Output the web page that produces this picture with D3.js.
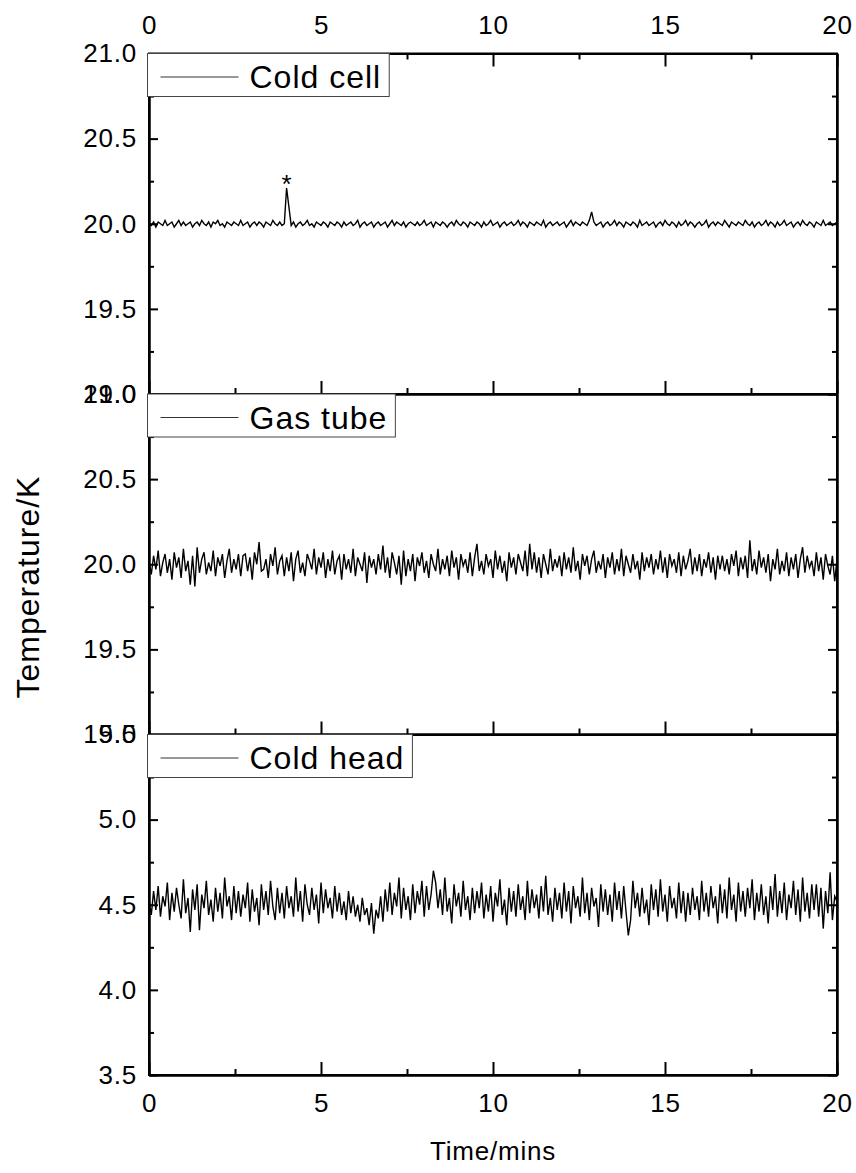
<!DOCTYPE html>
<html>
<head>
<meta charset="utf-8">
<script src="https://cdn.jsdelivr.net/npm/d3@7"></script>
<style>
  body { margin: 0; background: #fff; }
  text { font-family: "Liberation Sans", Arial, sans-serif; fill: #000; }
</style>
</head>
<body>
<div id="chart"></div>
<script>
// one sample every 4 s, time axis in minutes
const sampleMinutes = 4 / 60;

// Cold cell temperature (K)
const coldCell = [
  20.00, 19.99, 20.01, 19.98, 20.01, 20.00, 19.99, 20.02, 19.99, 20.00, 20.01, 19.98, 20.00, 20.02, 19.99, 20.01, 19.99, 20.00, 20.01, 19.98,
  20.00, 20.01, 19.99, 20.02, 20.00, 19.99, 20.01, 19.98, 20.01, 20.00, 20.02, 19.99, 20.00, 19.98, 20.01, 20.00, 19.99, 20.01, 20.00, 19.99,
  20.02, 19.99, 20.00, 20.01, 19.98, 20.00, 20.01, 19.99, 20.01, 20.00, 19.98, 20.01, 20.00, 19.99, 20.02, 20.00, 19.99, 20.01, 19.99, 20.00,
  20.21, 20.10, 19.99, 20.01, 19.98, 20.00, 20.01, 19.99, 20.00, 20.02, 19.99, 20.00, 19.98, 20.01, 20.00, 19.99, 20.01, 20.00, 19.98, 20.01,
  20.00, 19.99, 20.01, 20.00, 19.98, 20.01, 19.99, 20.00, 20.01, 19.99, 20.00, 20.02, 19.98, 20.00, 20.01, 19.99, 20.00, 20.01, 19.98, 20.00,
  20.01, 19.99, 20.00, 20.01, 19.98, 20.00, 20.02, 19.99, 20.01, 20.00, 19.99, 20.01, 19.98, 20.00, 20.01, 20.00, 19.99, 20.01, 19.99, 20.00,
  20.02, 19.99, 20.00, 20.01, 19.98, 20.01, 20.00, 19.99, 20.01, 20.00, 19.98, 20.00, 20.01, 19.99, 20.02, 20.00, 19.99, 20.01, 20.00, 19.98,
  20.01, 20.00, 19.99, 20.01, 20.00, 19.98, 20.01, 19.99, 20.00, 20.02, 19.99, 20.00, 20.01, 19.98, 20.00, 20.01, 19.99, 20.00, 20.01, 19.99,
  20.00, 20.02, 19.99, 20.01, 20.00, 19.98, 20.01, 20.00, 19.99, 20.01, 20.00, 19.99, 20.02, 19.98, 20.00, 20.01, 19.99, 20.00, 20.01, 19.99,
  20.00, 20.01, 19.98, 20.00, 20.02, 19.99, 20.01, 20.00, 19.99, 20.01, 20.00, 19.99, 20.02, 20.07, 20.01, 19.99, 20.00, 20.01, 19.98, 20.00,
  20.01, 19.99, 20.00, 20.02, 19.99, 20.01, 20.00, 19.98, 20.01, 20.00, 19.99, 20.01, 20.00, 19.98, 20.02, 19.99, 20.00, 20.01, 19.99, 20.00,
  20.01, 19.98, 20.00, 20.01, 19.99, 20.02, 20.00, 19.99, 20.01, 20.00, 19.98, 20.01, 19.99, 20.00, 20.02, 19.99, 20.01, 20.00, 19.98, 20.00,
  20.01, 19.99, 20.00, 20.02, 19.98, 20.00, 20.01, 19.99, 20.01, 20.00, 19.99, 20.02, 20.00, 19.98, 20.01, 20.00, 19.99, 20.01, 20.00, 19.99,
  20.02, 20.00, 19.99, 20.01, 19.98, 20.00, 20.01, 19.99, 20.00, 20.02, 19.99, 20.01, 20.00, 19.98, 20.01, 19.99, 20.00, 20.02, 19.99, 20.00,
  20.01, 19.98, 20.00, 20.01, 19.99, 20.02, 20.00, 19.99, 20.01, 20.00, 19.98, 20.01, 20.00, 19.99, 20.02, 19.99, 20.00, 20.01, 19.99, 20.00,
  20.01
];

// Gas tube temperature (K)
const gasTube = [
  20.02, 19.94, 20.05, 19.97, 20.08, 19.93, 20.01, 20.06, 19.95, 20.03, 19.91, 20.07, 19.98, 20.04, 19.92, 20.09, 19.96, 20.02, 19.88, 20.05,
  19.87, 20.10, 19.95, 20.03, 20.07, 19.94, 20.01, 19.96, 20.08, 19.93, 20.04, 19.99, 20.06, 19.92, 20.02, 20.09, 19.95, 20.03, 19.97, 20.06,
  19.93, 20.05, 20.06, 19.96, 20.04, 19.91, 20.07, 20.00, 20.13, 19.96, 19.97, 20.03, 19.92, 20.06, 19.99, 20.10, 19.94, 20.02, 20.05, 19.93,
  20.04, 19.96, 20.07, 19.90, 20.03, 20.08, 19.95, 20.01, 19.93, 20.06, 20.02, 19.97, 20.09, 19.94, 20.04, 19.98, 20.07, 19.92, 20.03, 19.96,
  20.08, 19.94, 20.02, 20.05, 19.91, 20.06, 19.97, 20.03, 19.95, 20.09, 19.93, 20.04, 20.00, 19.96, 20.07, 19.89, 20.05, 19.98, 20.03, 19.94,
  20.06, 19.97, 20.11, 19.95, 20.04, 19.92, 20.07, 20.01, 19.94, 20.05, 19.88, 20.08, 19.93, 20.03, 19.96, 20.06, 19.90, 20.04, 19.99, 20.07,
  19.95, 20.02, 19.92, 20.06, 20.00, 19.96, 20.09, 19.94, 20.03, 19.97, 20.05, 19.93, 20.08, 19.98, 20.04, 19.91, 20.06, 19.99, 20.03, 19.95,
  20.07, 19.93, 20.04, 20.12, 19.96, 20.02, 19.94, 20.06, 19.99, 20.03, 19.92, 20.08, 19.97, 20.05, 19.95, 20.02, 19.90, 20.07, 19.98, 20.04,
  19.94, 20.06, 20.01, 19.96, 20.08, 19.93, 20.12, 19.97, 20.07, 19.95, 20.04, 19.92, 20.06, 20.00, 19.94, 20.09, 19.96, 20.03, 19.98, 20.05,
  19.93, 20.07, 19.97, 20.04, 19.95, 20.10, 19.96, 20.02, 19.91, 20.06, 19.99, 20.05, 19.94, 20.03, 20.08, 19.95, 20.02, 19.97, 20.06, 19.92,
  20.04, 19.98, 20.07, 19.94, 20.03, 19.96, 20.09, 19.93, 20.05, 20.00, 19.95, 20.06, 19.97, 20.02, 19.91, 20.07, 19.96, 20.04, 19.98, 20.06,
  19.94, 20.03, 19.97, 20.08, 19.95, 20.04, 19.92, 20.06, 19.99, 20.03, 19.95, 20.07, 19.93, 20.05, 19.97, 20.02, 20.09, 19.94, 20.04, 19.96,
  20.06, 19.93, 20.03, 19.98, 20.07, 19.95, 20.04, 19.91, 20.05, 19.97, 20.05, 19.96, 20.03, 19.94, 20.06, 19.99, 20.08, 19.93, 20.04, 19.97,
  20.05, 19.92, 20.14, 19.96, 20.03, 19.94, 20.08, 19.98, 20.04, 19.95, 20.06, 19.90, 20.03, 19.97, 20.09, 19.94, 20.02, 19.96, 20.07, 19.93,
  20.04, 19.97, 20.06, 19.92, 20.03, 20.10, 19.95, 20.05, 19.98, 20.02, 19.93, 20.07, 19.96, 20.04, 19.91, 20.06, 19.99, 19.94, 20.05, 19.90,
  20.03
];

// Cold head temperature (K)
const coldHead = [
  4.52, 4.44, 4.58, 4.47, 4.61, 4.43, 4.55, 4.49, 4.63, 4.41, 4.57, 4.46, 4.60, 4.50, 4.42, 4.65, 4.45, 4.54, 4.34, 4.59,
  4.47, 4.62, 4.35, 4.56, 4.48, 4.64, 4.44, 4.53, 4.40, 4.60, 4.46, 4.57, 4.42, 4.66, 4.49, 4.55, 4.41, 4.61, 4.45, 4.58,
  4.43, 4.56, 4.48, 4.63, 4.40, 4.59, 4.46, 4.54, 4.38, 4.62, 4.47, 4.58, 4.44, 4.64, 4.49, 4.41, 4.60, 4.45, 4.57, 4.42,
  4.61, 4.48, 4.55, 4.43, 4.66, 4.46, 4.58, 4.40, 4.62, 4.50, 4.44, 4.60, 4.47, 4.56, 4.39, 4.63, 4.45, 4.59, 4.48, 4.54,
  4.42, 4.61, 4.46, 4.57, 4.44, 4.52, 4.41, 4.58, 4.45, 4.55, 4.43, 4.50, 4.40, 4.54, 4.44, 4.48, 4.38, 4.51, 4.33, 4.47,
  4.42, 4.55, 4.40, 4.59, 4.46, 4.63, 4.44, 4.57, 4.49, 4.66, 4.42, 4.60, 4.47, 4.55, 4.41, 4.62, 4.45, 4.58, 4.50, 4.64,
  4.43, 4.61, 4.47, 4.56, 4.70, 4.63, 4.48, 4.59, 4.44, 4.66, 4.46, 4.54, 4.39, 4.62, 4.49, 4.57, 4.43, 4.64, 4.47, 4.55,
  4.41, 4.60, 4.45, 4.58, 4.48, 4.63, 4.42, 4.56, 4.46, 4.61, 4.40, 4.57, 4.49, 4.65, 4.44, 4.53, 4.38, 4.60, 4.46, 4.58,
  4.43, 4.62, 4.47, 4.55, 4.41, 4.64, 4.45, 4.59, 4.48, 4.56, 4.42, 4.61, 4.46, 4.67, 4.44, 4.54, 4.40, 4.60, 4.47, 4.57,
  4.42, 4.63, 4.46, 4.58, 4.39, 4.61, 4.48, 4.55, 4.43, 4.66, 4.45, 4.57, 4.41, 4.60, 4.49, 4.54, 4.37, 4.62, 4.46, 4.59,
  4.44, 4.56, 4.40, 4.63, 4.47, 4.58, 4.42, 4.61, 4.46, 4.32, 4.41, 4.64, 4.48, 4.57, 4.43, 4.60, 4.45, 4.53, 4.38, 4.62,
  4.47, 4.59, 4.43, 4.65, 4.46, 4.56, 4.40, 4.61, 4.48, 4.54, 4.42, 4.63, 4.45, 4.58, 4.40, 4.57, 4.44, 4.60, 4.47, 4.55,
  4.41, 4.64, 4.46, 4.57, 4.43, 4.61, 4.48, 4.55, 4.39, 4.62, 4.45, 4.59, 4.42, 4.66, 4.47, 4.56, 4.40, 4.63, 4.46, 4.58,
  4.43, 4.60, 4.48, 4.65, 4.41, 4.57, 4.46, 4.62, 4.44, 4.55, 4.39, 4.61, 4.47, 4.68, 4.43, 4.58, 4.45, 4.63, 4.41, 4.56,
  4.48, 4.64, 4.44, 4.59, 4.40, 4.66, 4.46, 4.57, 4.42, 4.62, 4.47, 4.62, 4.43, 4.60, 4.36, 4.58, 4.45, 4.69, 4.41, 4.55,
  4.52
];

const seriesNames = ["Cold cell", "Gas tube", "Cold head"];
const yDomains = [[19, 21], [19, 21], [3.5, 5.5]];
const yMajorTicks = [
  [19.0, 19.5, 20.0, 20.5, 21.0],
  [19.0, 19.5, 20.0, 20.5, 21.0],
  [3.5, 4.0, 4.5, 5.0, 5.5]
];
const yMinorTicks = [
  [19.25, 19.75, 20.25, 20.75],
  [19.25, 19.75, 20.25, 20.75],
  [3.75, 4.25, 4.75, 5.25]
];
const xMajorTicks = [0, 5, 10, 15, 20];
const xMinorTicks = [2.5, 7.5, 12.5, 17.5];

const allSeries = [coldCell, gasTube, coldHead];

const W = 856, H = 1173;
const left = 149, right = 837;
const panelTop = 53.5, panelH = 340.5;

const svg = d3.select("#chart").append("svg")
    .attr("width", W)
    .attr("height", H);

const x = d3.scaleLinear().domain([0, 20]).range([left, right]);

const fmt = d3.format(".1f");

allSeries.forEach((values, k) => {
    const top = panelTop + k * panelH;
    const bottom = top + panelH;
    const y = d3.scaleLinear().domain(yDomains[k]).range([bottom, top]);

    // data trace
    const line = d3.line()
        .x((d, i) => x(i * sampleMinutes))
        .y(d => y(d));

    svg.append("path")
        .datum(values)
        .attr("fill", "none")
        .attr("stroke", "#000")
        .attr("stroke-width", 1.4)
        .attr("stroke-linejoin", "miter")
        .attr("d", line);

    // left axis with labels, ticks pointing in
    const gl = svg.append("g")
        .attr("transform", "translate(" + left + ",0)")
        .call(d3.axisLeft(y).tickValues(yMajorTicks[k]).tickSizeInner(-9).tickSizeOuter(0).tickPadding(12).tickFormat(fmt));
    gl.selectAll("text").attr("font-size", 26).style("letter-spacing", "0.8px");

    svg.append("g")
        .attr("transform", "translate(" + left + ",0)")
        .call(d3.axisLeft(y).tickValues(yMinorTicks[k]).tickSizeInner(-5).tickSizeOuter(0).tickFormat(""));

    // right axis, ticks only
    svg.append("g")
        .attr("transform", "translate(" + right + ",0)")
        .call(d3.axisRight(y).tickValues(yMajorTicks[k]).tickSizeInner(-9).tickSizeOuter(0).tickFormat(""));
    svg.append("g")
        .attr("transform", "translate(" + right + ",0)")
        .call(d3.axisRight(y).tickValues(yMinorTicks[k]).tickSizeInner(-5).tickSizeOuter(0).tickFormat(""));

    // bottom axis of each panel, labels only on the last
    const gb = svg.append("g")
        .attr("transform", "translate(0," + bottom + ")")
        .call(d3.axisBottom(x).tickValues(xMajorTicks).tickSizeInner(-13).tickSizeOuter(0).tickPadding(19)
            .tickFormat(k === 2 ? d3.format("d") : ""));
    gb.selectAll("text").attr("font-size", 26).style("letter-spacing", "0.8px");
    svg.append("g")
        .attr("transform", "translate(0," + bottom + ")")
        .call(d3.axisBottom(x).tickValues(xMinorTicks).tickSizeInner(-6).tickSizeOuter(0).tickFormat(""));

    // top axis only on the first panel
    if (k === 0) {
        const gt = svg.append("g")
            .attr("transform", "translate(0," + top + ")")
            .call(d3.axisTop(x).tickValues(xMajorTicks).tickSizeInner(-13).tickSizeOuter(0).tickPadding(20).tickFormat(d3.format("d")));
        gt.selectAll("text").attr("font-size", 26).style("letter-spacing", "0.8px");
        svg.append("g")
            .attr("transform", "translate(0," + top + ")")
            .call(d3.axisTop(x).tickValues(xMinorTicks).tickSizeInner(-6).tickSizeOuter(0).tickFormat(""));
    }

    // frame
    svg.append("rect")
        .attr("x", left)
        .attr("y", top)
        .attr("width", right - left)
        .attr("height", panelH)
        .attr("fill", "none")
        .attr("stroke", "#000")
        .attr("stroke-width", 2);

    // legend
    const lg = svg.append("g").attr("transform", "translate(" + (left - 1.5) + "," + top + ")");
    const box = lg.append("rect")
        .attr("x", 0).attr("y", 0)
        .attr("height", 43)
        .attr("fill", "#fff")
        .attr("stroke", "#444")
        .attr("stroke-width", 1);
    lg.append("line")
        .attr("x1", 13).attr("x2", 91)
        .attr("y1", 23.5).attr("y2", 23.5)
        .attr("stroke", "#333")
        .attr("stroke-width", 1);
    const lt = lg.append("text")
        .attr("x", 102)
        .attr("y", 34.5)
        .attr("font-size", 32)
        .style("letter-spacing", "1px")
        .text(seriesNames[k]);
    box.attr("width", 102 + lt.node().getComputedTextLength() + 8);

    // marker above the cold cell spike
    if (k === 0) {
        const peak = d3.maxIndex(values);
        svg.append("text")
            .attr("x", x(peak * sampleMinutes))
            .attr("y", y(values[peak]) + 5)
            .attr("text-anchor", "middle")
            .attr("font-size", 26)
            .text("*");
    }
});

svg.selectAll(".domain").attr("stroke-width", 2);
svg.selectAll(".tick line").attr("stroke-width", 2);

// axis titles
svg.append("text")
    .attr("x", 493)
    .attr("y", 1160)
    .attr("text-anchor", "middle")
    .attr("font-size", 26)
    .style("letter-spacing", "0.8px")
    .text("Time/mins");

svg.append("text")
    .attr("transform", "translate(39,587) rotate(-90)")
    .attr("text-anchor", "middle")
    .attr("font-size", 32)
    .style("letter-spacing", "1px")
    .text("Temperature/K");
</script>
</body>
</html>
